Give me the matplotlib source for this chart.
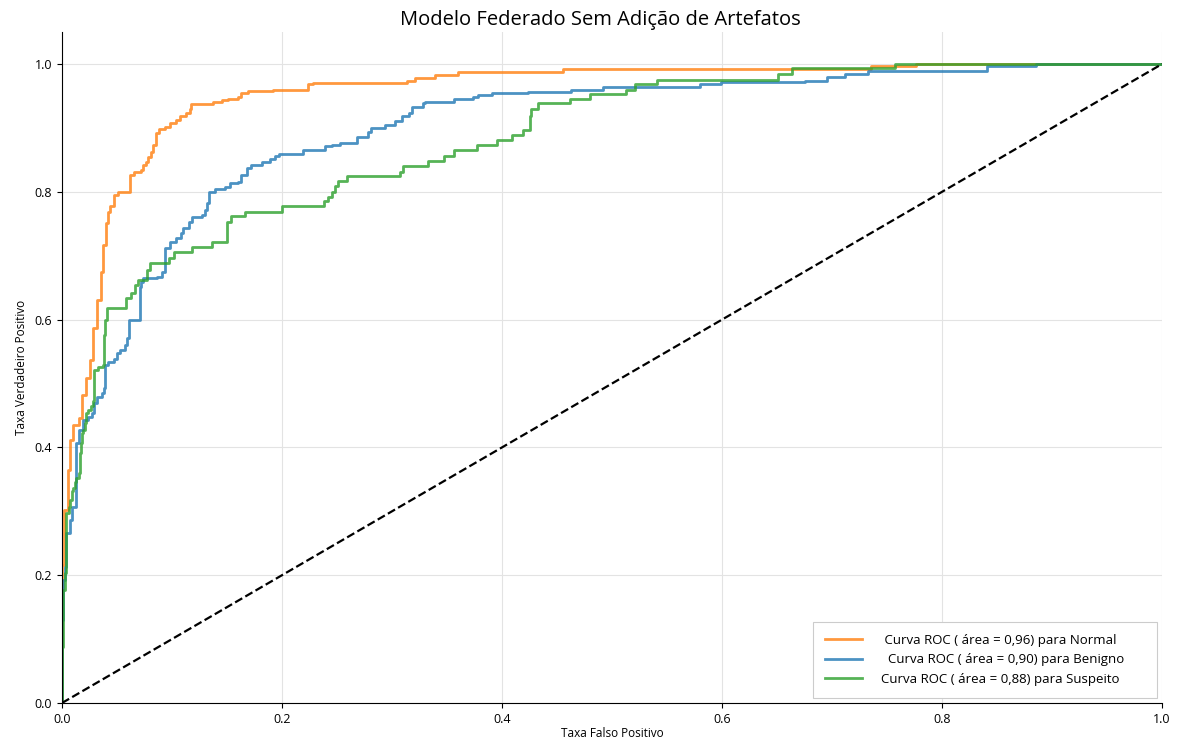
import matplotlib
matplotlib.use("Agg")
import matplotlib.pyplot as plt

plt.rcParams['font.family'] = ['Open Sans', 'DejaVu Sans']

# ROC points (fpr, tpr), step corners (steps-post)
fpr_normal = [0.0, 0.0, 0.002, 0.005, 0.007, 0.010, 0.015, 0.018, 0.022, 0.025, 0.028,
              0.032, 0.035, 0.037, 0.040, 0.042, 0.044, 0.047, 0.051, 0.062, 0.065,
              0.072, 0.074, 0.076, 0.078, 0.081, 0.083, 0.085, 0.088, 0.094, 0.098,
              0.104, 0.107, 0.113, 0.116, 0.117, 0.137, 0.145, 0.151, 0.160, 0.163,
              0.169, 0.192, 0.224, 0.228, 0.314, 0.321, 0.339, 0.360, 0.455, 0.735,
              0.776, 1.0]
tpr_normal = [0.0, 0.216, 0.302, 0.365, 0.412, 0.435, 0.446, 0.482, 0.509, 0.537, 0.587,
              0.631, 0.674, 0.717, 0.751, 0.769, 0.777, 0.795, 0.799, 0.826, 0.831,
              0.834, 0.842, 0.847, 0.854, 0.863, 0.873, 0.892, 0.899, 0.902, 0.907,
              0.913, 0.919, 0.924, 0.929, 0.937, 0.941, 0.943, 0.945, 0.949, 0.954,
              0.957, 0.960, 0.968, 0.970, 0.974, 0.978, 0.982, 0.987, 0.992, 0.997,
              1.0, 1.0]

fpr_benigno = [0.0, 0.0, 0.001, 0.003, 0.004, 0.007, 0.009, 0.013, 0.015, 0.019, 0.024,
               0.027, 0.029, 0.032, 0.036, 0.038, 0.039, 0.042, 0.047, 0.050, 0.053,
               0.057, 0.059, 0.061, 0.071, 0.072, 0.074, 0.086, 0.091, 0.094, 0.098,
               0.104, 0.108, 0.110, 0.115, 0.118, 0.127, 0.130, 0.132, 0.134, 0.139,
               0.148, 0.153, 0.160, 0.163, 0.168, 0.172, 0.182, 0.189, 0.194, 0.197,
               0.219, 0.239, 0.245, 0.253, 0.268, 0.278, 0.281, 0.294, 0.303, 0.309,
               0.315, 0.318, 0.328, 0.330, 0.356, 0.374, 0.378, 0.391, 0.424, 0.463,
               0.492, 0.580, 0.599, 0.675, 0.695, 0.712, 0.733, 0.841, 0.885, 1.0]
tpr_benigno = [0.0, 0.130, 0.192, 0.213, 0.266, 0.286, 0.307, 0.407, 0.427, 0.443, 0.448,
               0.454, 0.469, 0.479, 0.485, 0.493, 0.529, 0.533, 0.538, 0.547, 0.552,
               0.560, 0.571, 0.599, 0.651, 0.659, 0.665, 0.667, 0.675, 0.712, 0.722,
               0.727, 0.735, 0.743, 0.753, 0.761, 0.764, 0.772, 0.782, 0.799, 0.804,
               0.808, 0.813, 0.816, 0.826, 0.837, 0.842, 0.847, 0.852, 0.856, 0.859,
               0.866, 0.871, 0.873, 0.877, 0.885, 0.894, 0.900, 0.905, 0.910, 0.918,
               0.923, 0.932, 0.939, 0.941, 0.945, 0.949, 0.951, 0.954, 0.956, 0.959,
               0.964, 0.968, 0.972, 0.974, 0.980, 0.985, 0.989, 0.997, 1.0, 1.0]

fpr_suspeito = [0.0, 0.0, 0.001, 0.003, 0.004, 0.006, 0.007, 0.009, 0.010, 0.012, 0.013,
                0.015, 0.016, 0.017, 0.018, 0.019, 0.021, 0.022, 0.024, 0.026, 0.028,
                0.029, 0.033, 0.037, 0.038, 0.039, 0.041, 0.058, 0.063, 0.066, 0.069,
                0.077, 0.080, 0.097, 0.102, 0.118, 0.136, 0.150, 0.154, 0.166, 0.200,
                0.238, 0.242, 0.245, 0.248, 0.251, 0.259, 0.307, 0.310, 0.333, 0.347,
                0.356, 0.377, 0.395, 0.409, 0.419, 0.425, 0.426, 0.433, 0.462, 0.480,
                0.513, 0.521, 0.541, 0.651, 0.664, 0.757, 1.0]
tpr_suspeito = [0.0, 0.088, 0.177, 0.203, 0.297, 0.307, 0.318, 0.331, 0.336, 0.346, 0.352,
                0.360, 0.391, 0.407, 0.423, 0.427, 0.438, 0.454, 0.459, 0.464, 0.472,
                0.521, 0.526, 0.529, 0.576, 0.599, 0.618, 0.633, 0.641, 0.654, 0.662,
                0.678, 0.688, 0.696, 0.706, 0.713, 0.722, 0.753, 0.762, 0.769, 0.777,
                0.785, 0.792, 0.800, 0.809, 0.817, 0.825, 0.831, 0.840, 0.848, 0.856,
                0.866, 0.873, 0.881, 0.889, 0.897, 0.918, 0.929, 0.939, 0.945, 0.953,
                0.960, 0.968, 0.975, 0.984, 0.993, 1.0, 1.0]

auc_normal, auc_benigno, auc_suspeito = "0,96", "0,90", "0,88"

fig = plt.figure(figsize=(11.81, 7.45), dpi=100)
ax = fig.add_axes([0.0525, 0.0564, 0.9315, 0.9006])

# trailing spaces widen the legend box like the original
ax.plot(fpr_normal, tpr_normal, drawstyle='steps-post', color='#ff7f0e', alpha=0.8, lw=2,
        label=" Curva ROC ( área = %s) para Normal       " % auc_normal)
ax.plot(fpr_benigno, tpr_benigno, drawstyle='steps-post', color='#1f77b4', alpha=0.8, lw=2,
        label="  Curva ROC ( área = %s) para Benigno      " % auc_benigno)
ax.plot(fpr_suspeito, tpr_suspeito, drawstyle='steps-post', color='#2ca02c', alpha=0.8, lw=2,
        label="Curva ROC ( área = %s) para Suspeito      " % auc_suspeito)
ax.plot([0, 1], [0, 1], 'k--', lw=1.6)

ax.set_xlim(0.0, 1.0)
ax.set_ylim(0.0, 1.05)
ax.set_xticks([0.0, 0.2, 0.4, 0.6, 0.8, 1.0])
ax.set_yticks([0.0, 0.2, 0.4, 0.6, 0.8, 1.0])
ax.tick_params(labelsize=9)
ax.grid(True, color='#e3e3e3', lw=0.8)
ax.set_axisbelow(True)
ax.spines['top'].set_visible(False)
ax.spines['right'].set_visible(False)

ax.set_xlabel("Taxa Falso Positivo", fontsize=8.5, labelpad=1)
ax.set_ylabel("Taxa Verdadeiro Positivo", fontsize=8.5, labelpad=5)
ax.set_title("Modelo Federado Sem Adição de Artefatos", fontsize=14.5, pad=5, x=0.489)

leg = ax.legend(loc='lower right', fontsize=9.5, handlelength=2.8, handletextpad=1.45,
                borderpad=0.9, borderaxespad=0.4, fancybox=False, edgecolor='#cccccc',
                framealpha=1)
leg.get_frame().set_linewidth(0.8)

fig.savefig("out.png", dpi=100)
